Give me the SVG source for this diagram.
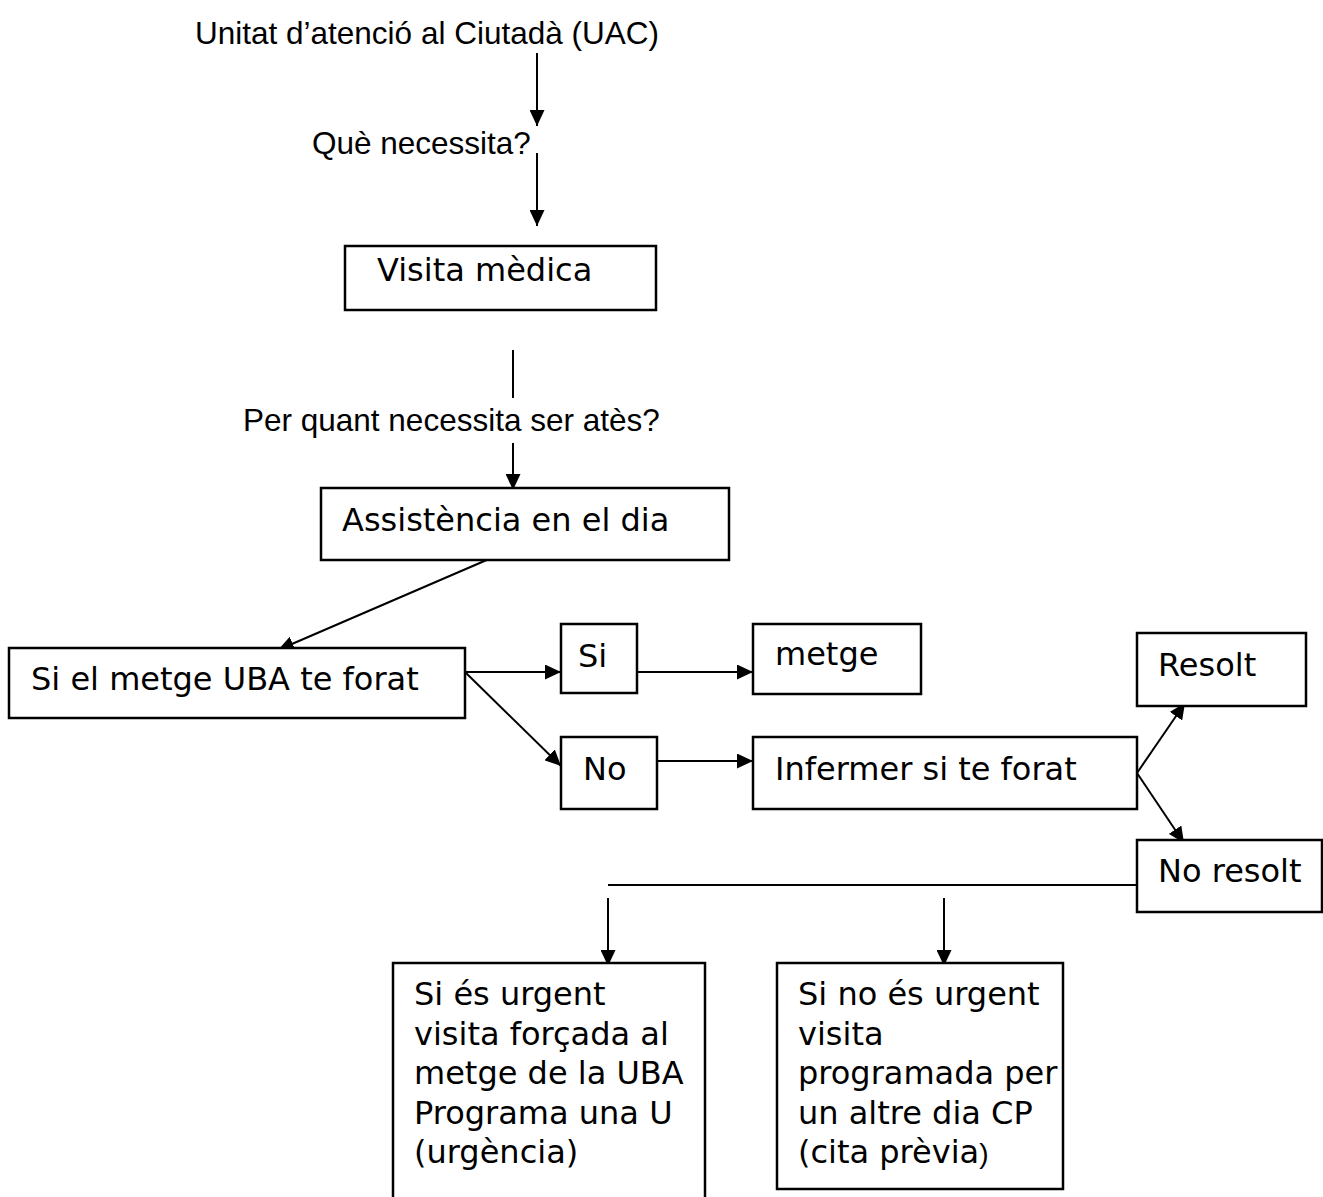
<svg xmlns="http://www.w3.org/2000/svg" width="1323" height="1197" viewBox="0 0 1323 1197">
  <style>
    .box { fill: #fff; stroke: #000; stroke-width: 2.5; }
    .t { font-family: "DejaVu Sans", Verdana, sans-serif; font-size: 32px; fill: #000; }
    .lbl { font-family: "Liberation Sans", Arial, sans-serif; font-size: 31.5px; fill: #000; }
    .c { stroke: #000; stroke-width: 2; fill: none; }
    .ca { stroke: #000; stroke-width: 2; fill: none; marker-end: url(#arr); }
  </style>
  <defs>
    <marker id="arr" markerUnits="userSpaceOnUse" markerWidth="17" markerHeight="15" refX="16" refY="7.5" orient="auto">
      <path d="M0,0 L16,7.5 L0,15 z" fill="#000"/>
    </marker>
  </defs>
  <rect width="1323" height="1197" fill="#fff"/>

  <!-- free-standing labels -->
  <g id="label-uac"><text class="lbl" x="195" y="44" font-size="32.5">Unitat d’atenció al Ciutadà (UAC)</text></g>
  <g id="label-que"><text class="lbl" x="312" y="154">Què necessita?</text></g>
  <g id="label-per-quant"><text class="lbl" x="243" y="431">Per quant necessita ser atès?</text></g>

  <!-- connectors -->
  <g id="connectors">
    <line class="ca" x1="537" y1="53" x2="537" y2="126"/>
    <line class="ca" x1="537" y1="153" x2="537" y2="226"/>
    <line class="c" x1="513" y1="350" x2="513" y2="398"/>
    <line class="ca" x1="513" y1="443" x2="513" y2="490"/>
    <line class="ca" x1="489" y1="559" x2="278" y2="650"/>
    <line class="ca" x1="465" y1="672" x2="561" y2="672"/>
    <line class="ca" x1="465" y1="672" x2="561" y2="766"/>
    <line class="ca" x1="637" y1="672" x2="753" y2="672"/>
    <line class="ca" x1="657" y1="761" x2="753" y2="761"/>
    <line class="ca" x1="1137" y1="773" x2="1185" y2="703"/>
    <line class="ca" x1="1137" y1="773" x2="1184" y2="843"/>
    <line class="c" x1="608" y1="885" x2="1137" y2="885"/>
    <line class="ca" x1="608" y1="898" x2="608" y2="966"/>
    <line class="ca" x1="944" y1="898" x2="944" y2="966"/>
  </g>

  <!-- nodes -->
  <g id="visita-medica">
    <rect class="box" x="345" y="246" width="311" height="64"/>
    <text class="t" x="377" y="281">Visita mèdica</text>
  </g>
  <g id="assistencia">
    <rect class="box" x="321" y="488" width="408" height="72"/>
    <text class="t" x="342" y="531">Assistència en el dia</text>
  </g>
  <g id="metge-uba">
    <rect class="box" x="9" y="648" width="456" height="70"/>
    <text class="t" x="31" y="690">Si el metge UBA te forat</text>
  </g>
  <g id="si">
    <rect class="box" x="561" y="624" width="76" height="69"/>
    <text class="t" x="578" y="667">Si</text>
  </g>
  <g id="metge">
    <rect class="box" x="753" y="624" width="168" height="70"/>
    <text class="t" x="775" y="665">metge</text>
  </g>
  <g id="no">
    <rect class="box" x="561" y="737" width="96" height="72"/>
    <text class="t" x="583" y="780">No</text>
  </g>
  <g id="infermer">
    <rect class="box" x="753" y="737" width="384" height="72"/>
    <text class="t" x="775" y="780">Infermer si te forat</text>
  </g>
  <g id="resolt">
    <rect class="box" x="1137" y="633" width="169" height="73"/>
    <text class="t" x="1158" y="676">Resolt</text>
  </g>
  <g id="no-resolt">
    <rect class="box" x="1137" y="840" width="185" height="72"/>
    <text class="t" x="1158" y="882">No resolt</text>
  </g>
  <g id="urgent">
    <rect class="box" x="393" y="963" width="312" height="250"/>
    <text class="t" x="414" y="1005">Si és urgent</text>
    <text class="t" x="414" y="1045">visita forçada al</text>
    <text class="t" x="414" y="1084">metge de la UBA</text>
    <text class="t" x="414" y="1124">Programa una U</text>
    <text class="t" x="414" y="1163">(urgència)</text>
  </g>
  <g id="no-urgent">
    <rect class="box" x="777" y="963" width="286" height="226"/>
    <text class="t" x="798" y="1005">Si no és urgent</text>
    <text class="t" x="798" y="1045">visita</text>
    <text class="t" x="798" y="1084">programada per</text>
    <text class="t" x="798" y="1124">un altre dia CP</text>
    <text class="t" x="798" y="1163">(cita prèvia<tspan font-family="Liberation Sans, Arial, sans-serif" font-size="28">)</tspan></text>
  </g>
</svg>
